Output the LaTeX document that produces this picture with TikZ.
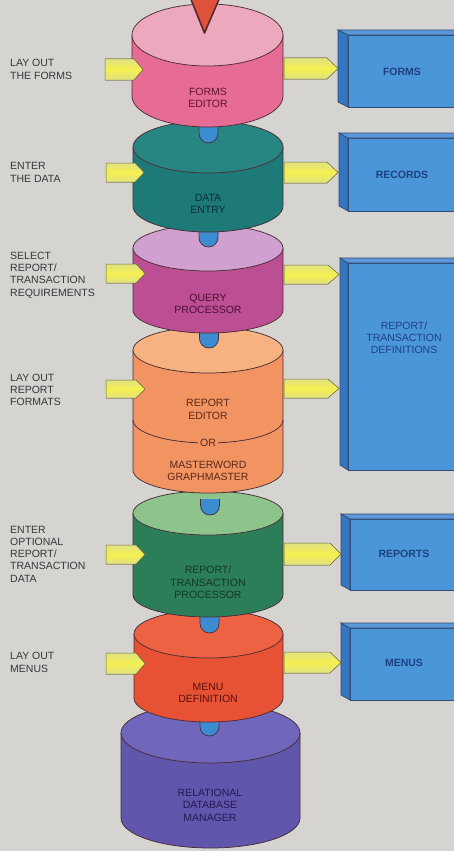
\documentclass[tikz,border=0pt]{standalone}
\usepackage{fontspec}
\setmainfont{Liberation Sans}
\definecolor{bg}{RGB}{214,212,209}
\definecolor{outl}{RGB}{75,45,55}
\definecolor{pinkT}{RGB}{236,168,188}\definecolor{pinkS}{RGB}{230,108,150}\definecolor{pinkX}{RGB}{95,20,45}
\definecolor{tealT}{RGB}{40,134,130}\definecolor{tealS}{RGB}{30,122,118}\definecolor{tealX}{RGB}{15,45,50}
\definecolor{purT}{RGB}{208,160,208}\definecolor{purS}{RGB}{188,78,148}\definecolor{purX}{RGB}{75,15,50}
\definecolor{orT}{RGB}{246,178,128}\definecolor{orS}{RGB}{241,148,98}\definecolor{orX}{RGB}{90,40,25}
\definecolor{grT}{RGB}{140,196,140}\definecolor{grS}{RGB}{44,126,88}\definecolor{grX}{RGB}{20,55,40}
\definecolor{redT}{RGB}{238,98,68}\definecolor{redS}{RGB}{232,82,52}\definecolor{redX}{RGB}{90,15,15}
\definecolor{dbT}{RGB}{112,102,188}\definecolor{dbS}{RGB}{96,86,172}\definecolor{dbX}{RGB}{35,25,85}
\definecolor{knobC}{RGB}{60,140,210}
\definecolor{boxF}{RGB}{74,150,216}\definecolor{boxL}{RGB}{52,118,192}\definecolor{boxT}{RGB}{92,152,216}
\definecolor{boxX}{RGB}{30,65,130}\definecolor{boxLine}{RGB}{50,75,115}
\definecolor{yel}{RGB}{244,240,80}\definecolor{yelE}{RGB}{225,225,130}\definecolor{yelLine}{RGB}{110,110,65}
\definecolor{triC}{RGB}{222,82,60}\definecolor{triLine}{RGB}{90,40,40}
\definecolor{labX}{RGB}{55,55,55}
% cylinder: cx, ctop, cbottom, rx, ry, topcolor, sidecolor
\newcommand\drawcyl[7]{%
  \fill[#7] (#1-#4,#2) -- (#1-#4,#3) arc[start angle=180,end angle=0,x radius=#4,y radius=#5] -- (#1+#4,#2) -- cycle;
  \draw[outl,line width=0.75pt] (#1-#4,#2) -- (#1-#4,#3) arc[start angle=180,end angle=0,x radius=#4,y radius=#5] -- (#1+#4,#2);
  \filldraw[fill=#6,draw=outl,line width=0.75pt] (#1,#2) ellipse[x radius=#4,y radius=#5];
}
% knob: cx, bottom y
\newcommand\drawknob[2]{%
  \filldraw[fill=knobC,draw=outl,line width=0.75pt] (#1-9.5,#2-16) -- (#1-9.5,#2-9.5) arc[start angle=180,end angle=0,radius=9.5] -- (#1+9.5,#2-16);
}
% box: xouter, xfront, top, bottom
\newcommand\drawbox[4]{%
  \filldraw[fill=boxF,draw=boxLine,line width=0.7pt] (#2,#3+5) rectangle (470,#4);
  \filldraw[fill=boxL,draw=boxLine,line width=0.7pt] (#1,#3) -- (#2,#3+5) -- (#2,#4) -- (#1,#4-5) -- cycle;
  \filldraw[fill=boxT,draw=boxLine,line width=0.7pt] (#1,#3) -- (470,#3) -- (470,#3+5) -- (#2,#3+5) -- cycle;
}
% yellow block arrow: xleft, xtip, top, bottom, tiplength
\newcommand\yarrow[5]{%
  \filldraw[top color=yelE,bottom color=yelE,middle color=yel,draw=yelLine,line width=0.5pt] (#1,#3) -- (#2-#5,#3) -- (#2,{(#3+#4)/2}) -- (#2-#5,#4) -- (#1,#4) -- cycle;
}
\begin{document}
\begin{tikzpicture}[x=1pt,y=-1pt,
  cyltxt/.style={font=\fontsize{10.5}{12.5}\selectfont,align=center,inner sep=1pt},
  labtxt/.style={font=\fontsize{10.5}{12.3}\selectfont,align=left,anchor=west,text=labX,inner sep=0pt},
  boxtxt/.style={font=\fontsize{10.5}{11.8}\selectfont,align=center,text=boxX,inner sep=0pt},
  boxbold/.style={boxtxt,font=\bfseries\fontsize{10.5}{12}\selectfont}]
\clip (0,0) rectangle (454,851);
\fill[bg] (0,0) rectangle (454,851);

% cylinders from bottom to top
\drawcyl{210.5}{733}{818}{89.5}{30}{dbT}{dbS}
\drawknob{209.5}{736}
\drawcyl{208.5}{634}{698}{74.5}{24}{redT}{redS}
\drawknob{209.5}{633}
\drawcyl{208}{513}{595}{75}{22}{grT}{grS}
\drawknob{210}{515}
\drawcyl{208}{350}{470}{75}{23}{orT}{orS}
\draw[outl,line width=0.75pt] (133,420) arc[start angle=180,end angle=0,x radius=75,y radius=23];
\drawknob{209}{348}
\drawcyl{208}{248}{310}{75}{23}{purT}{purS}
\drawknob{208.5}{247}
\drawcyl{208}{147}{206}{75}{26}{tealT}{tealS}
\drawknob{208.5}{143}
\drawcyl{207.5}{35}{96}{75.5}{31}{pinkT}{pinkS}

% red triangle
\filldraw[fill=triC,draw=triLine,line width=1.6pt,line join=round] (190,-3) -- (220,-3) -- (204.5,33) -- cycle;

% cylinder texts
\node[cyltxt,text=pinkX] (fe) at (208,98) {FORMS\\EDITOR};
\node[cyltxt,text=tealX] (de) at (208,204) {DATA\\ENTRY};
\node[cyltxt,text=purX] (qp) at (208,304) {QUERY\\PROCESSOR};
\node[cyltxt,text=orX] (re) at (208,409.5) {REPORT\\EDITOR};
\node[cyltxt,text=orX,fill=orS,inner xsep=2pt,inner ysep=0pt] (or) at (208,443) {OR};
\node[cyltxt,text=orX] (mg) at (208,471) {MASTERWORD\\GRAPHMASTER};
\node[cyltxt,text=grX] (rtp) at (208,582.5) {REPORT/\\TRANSACTION\\PROCESSOR};
\node[cyltxt,text=redX] (md) at (208,693) {MENU\\DEFINITION};
\node[cyltxt,text=dbX] (rdm) at (210,805) {RELATIONAL\\DATABASE\\MANAGER};

% left labels
\node[labtxt] (l1) at (10,69.5) {LAY OUT\\THE FORMS};
\node[labtxt] (l2) at (10,172.5) {ENTER\\THE DATA};
\node[labtxt] (l3) at (10,275) {SELECT\\REPORT/\\TRANSACTION\\REQUIREMENTS};
\node[labtxt] (l4) at (10,390) {LAY OUT\\REPORT\\FORMATS};
\node[labtxt] (l5) at (10,554) {ENTER\\OPTIONAL\\REPORT/\\TRANSACTION\\DATA};
\node[labtxt] (l6) at (10,662.5) {LAY OUT\\MENUS};

% left arrows
\yarrow{105}{143}{59}{80}{9}
\yarrow{106}{144}{163}{182}{9}
\yarrow{106}{145}{264}{283}{9}
\yarrow{106}{145}{380}{398}{9}
\yarrow{106}{145}{545}{564}{9}
\yarrow{106}{145}{653}{674}{9}

% right boxes
\drawbox{338}{348}{30}{107}
\drawbox{339}{348}{133}{211}
\drawbox{340}{348}{258}{470}
\drawbox{341}{350}{514}{590}
\drawbox{341}{350}{623}{700}

% right arrows
\yarrow{284}{338}{58}{79}{11}
\yarrow{284}{338}{162}{183}{11}
\yarrow{284}{339}{265}{284}{11}
\yarrow{284}{339}{379}{398}{11}
\yarrow{284}{341}{543}{565}{11}
\yarrow{284}{341}{652}{673}{11}

% box texts
\node[boxbold] (bf) at (402,72) {FORMS};
\node[boxbold] (br) at (402,175) {RECORDS};
\node[boxtxt] (brt) at (404,338) {REPORT/\\TRANSACTION\\DEFINITIONS};
\node[boxbold] (brp) at (404,554) {REPORTS};
\node[boxbold] (bm) at (404,663) {MENUS};
\end{tikzpicture}
\end{document}
